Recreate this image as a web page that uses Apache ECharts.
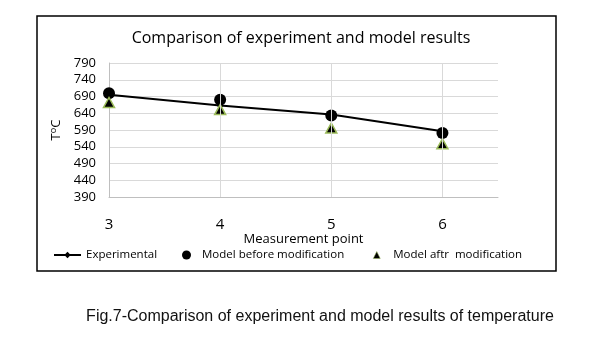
<!DOCTYPE html>
<html>
<head>
<meta charset="utf-8">
<script src="https://cdn.jsdelivr.net/npm/echarts@6/dist/echarts.min.js"></script>
<style>html,body{margin:0;padding:0;background:#fff}#c{width:593px;height:338px}</style>
</head>
<body>
<div id="c"></div>
<script>
var points = [3, 4, 5, 6];
var experimental = [695, 663, 636, 586];
var modelBefore = [700, 680, 633, 581];
var modelAfter = [672, 651, 596, 549];
var yTicks = [390, 440, 490, 540, 590, 640, 690, 740, 790];

function pairs(vals) { return points.map(function (p, i) { return [p, vals[i]]; }); }

var chart = echarts.init(document.getElementById('c'), null, { renderer: 'canvas' });
var font = '"Liberation Sans", Arial, sans-serif';
var ofont = '"Open Sans", sans-serif';
chart.setOption({
  animation: false,
  backgroundColor: '#fff',
  title: {
    text: 'Comparison of experiment and model results',
    left: 296, textAlign: 'center', top: 25,
    textStyle: { fontFamily: ofont, fontSize: 16, fontWeight: 'normal', color: '#000' }
  },
  grid: { left: 109, right: 95, top: 63, bottom: 141 },
  xAxis: {
    type: 'value', min: 3, max: 6.5, interval: 1,
    name: 'Measurement point', nameLocation: 'middle', nameGap: 32,
    nameTextStyle: { fontFamily: ofont, fontSize: 13, color: '#000' },
    axisLine: { show: true, lineStyle: { color: '#bfbfbf', width: 1 } },
    axisTick: { show: false },
    axisLabel: { customValues: points, margin: 20, fontFamily: ofont, fontSize: 15, color: '#000' },
    splitLine: { show: false }
  },
  yAxis: {
    type: 'value', min: yTicks[0], max: yTicks[yTicks.length - 1], interval: 50,
    name: '{a|T}{b|o}{a|C}', nameLocation: 'middle', nameGap: 37,
    nameTextStyle: { rich: { a: { fontFamily: ofont, fontSize: 13, color: '#000' }, b: { fontFamily: ofont, fontSize: 9, color: '#000', verticalAlign: 'top', padding: [0, 0, 6, 0] } } },
    axisLine: { show: true, lineStyle: { color: '#bfbfbf' } },
    axisTick: { show: false },
    axisLabel: { margin: 13, fontFamily: ofont, fontSize: 13, color: '#000' },
    splitLine: { show: true, lineStyle: { color: '#d9d9d9' } }
  },
  legend: [
    { data: ['Experimental'], left: 48, top: 244, itemWidth: 27, itemHeight: 8,
      textStyle: { fontFamily: ofont, fontSize: 11.5, color: '#000' } },
    { data: ['Model before modification'], left: 177, top: 244, itemWidth: 9, itemHeight: 9,
      textStyle: { fontFamily: ofont, fontSize: 11.5, color: '#000', padding: [0, 0, 0, 6] } },
    { data: ['Model aftr  modification'], left: 368, top: 244, itemWidth: 7, itemHeight: 7,
      itemStyle: { borderWidth: 0.5 },
      textStyle: { fontFamily: ofont, fontSize: 11.5, color: '#000', padding: [0, 0, 0, 8] } }
  ],
  series: [
    { name: 'grid', type: 'line', data: [], z: 1, silent: true,
      markLine: { silent: true, symbol: ['none', 'none'], label: { show: false },
        lineStyle: { color: '#d9d9d9', type: 'solid', width: 1 },
        data: points.slice(1).map(function (p) { return { xAxis: p }; }) } },
    { name: 'Experimental', type: 'line', data: pairs(experimental), symbol: 'diamond', symbolSize: 7,
      lineStyle: { color: '#000', width: 2 }, itemStyle: { color: '#000' }, z: 2 },
    { name: 'Model before modification', type: 'scatter', data: pairs(modelBefore), symbol: 'circle', symbolSize: 12,
      itemStyle: { color: '#000', opacity: 1 }, z: 3 },
    { name: 'Model aftr  modification', type: 'scatter', data: pairs(modelAfter), symbol: 'triangle', symbolSize: [11, 10],
      itemStyle: { color: '#000', borderColor: '#9bbb59', borderWidth: 1.5, opacity: 1 }, z: 4 }
  ],
  graphic: [
    { type: 'rect', shape: { x: 37, y: 16, width: 519, height: 255 }, style: { fill: 'none', stroke: '#000', lineWidth: 1.5 }, silent: true },
    { type: 'text', x: 320, y: 317, style: { text: 'Fig.7-Comparison of experiment and model results of temperature', font: '16px ' + font, fill: '#111', textAlign: 'center', textVerticalAlign: 'middle' } }
  ]
});
</script>
</body>
</html>
